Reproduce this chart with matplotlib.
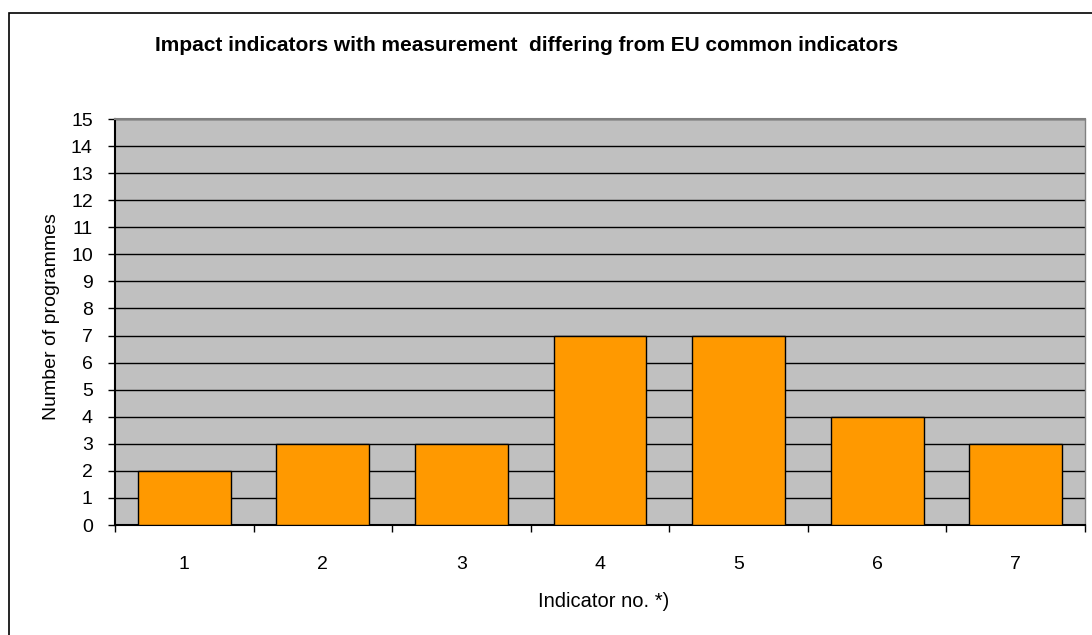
import matplotlib
matplotlib.use("Agg")
import matplotlib.pyplot as plt
from matplotlib.patches import Rectangle

categories = ["1", "2", "3", "4", "5", "6", "7"]
values = [2, 3, 3, 7, 7, 4, 3]
yticks = list(range(0, 16))

plt.rcParams['font.family'] = ['Liberation Sans', 'DejaVu Sans']

W, H = 1092, 635
fig = plt.figure(figsize=(W / 100, H / 100), dpi=100)
left, right, top, bottom = 115, 1085, 119, 525
ax = fig.add_axes([left / W, 1 - bottom / H, (right - left) / W, (bottom - top) / H])
ax.set_facecolor('#C0C0C0')

x = list(range(len(categories)))
ax.bar(x, values, width=0.67, color='#FF9900', edgecolor='black', linewidth=1.0, zorder=3)
ax.set_xlim(-0.5, len(categories) - 0.5)
ax.set_ylim(0, 15)
ax.set_yticks(yticks)
ax.set_yticklabels([str(t) for t in yticks], fontsize=14)
ax.yaxis.grid(True, color='black', linewidth=1.0, zorder=1)
ax.set_axisbelow(True)
ax.tick_params(axis='y', length=5, width=1, direction='out', pad=11)

# x ticks between categories
ax.set_xticks([i + 0.5 for i in range(-1, len(categories))])
ax.set_xticklabels([])
ax.set_xticks(x, minor=True)
ax.set_xticklabels(categories, minor=True, fontsize=14)
ax.tick_params(axis='x', which='major', length=5, width=1, direction='out')
ax.tick_params(axis='x', which='minor', length=0, pad=22)

for s in ['left', 'bottom']:
    ax.spines[s].set_linewidth(1.5)
    ax.spines[s].set_color('black')
ax.spines['top'].set_color('#808080')
ax.spines['right'].set_color('#808080')
ax.spines['top'].set_linewidth(1.5)
ax.spines['right'].set_linewidth(1.0)

fig.text(52 / W, 1 - 317 / H, "Number of programmes", rotation=90,
         ha='center', va='center', fontsize=14)
fig.text(604 / W, 1 - 607 / H, "Indicator no. *)", ha='center', va='baseline', fontsize=14.5)

fig.text(527 / W, 1 - 51 / H, "Impact indicators with measurement  differing from EU common indicators",
         ha='center', va='baseline', fontsize=15, fontweight='bold')

# outer frame (top and left edges visible)
fig.patches.append(Rectangle((9 / W, -0.05), 1.2, 1 - 13 / H + 0.05, transform=fig.transFigure,
                             fill=False, edgecolor='black', linewidth=1.2))

fig.savefig("out.png", dpi=100, facecolor='white')
